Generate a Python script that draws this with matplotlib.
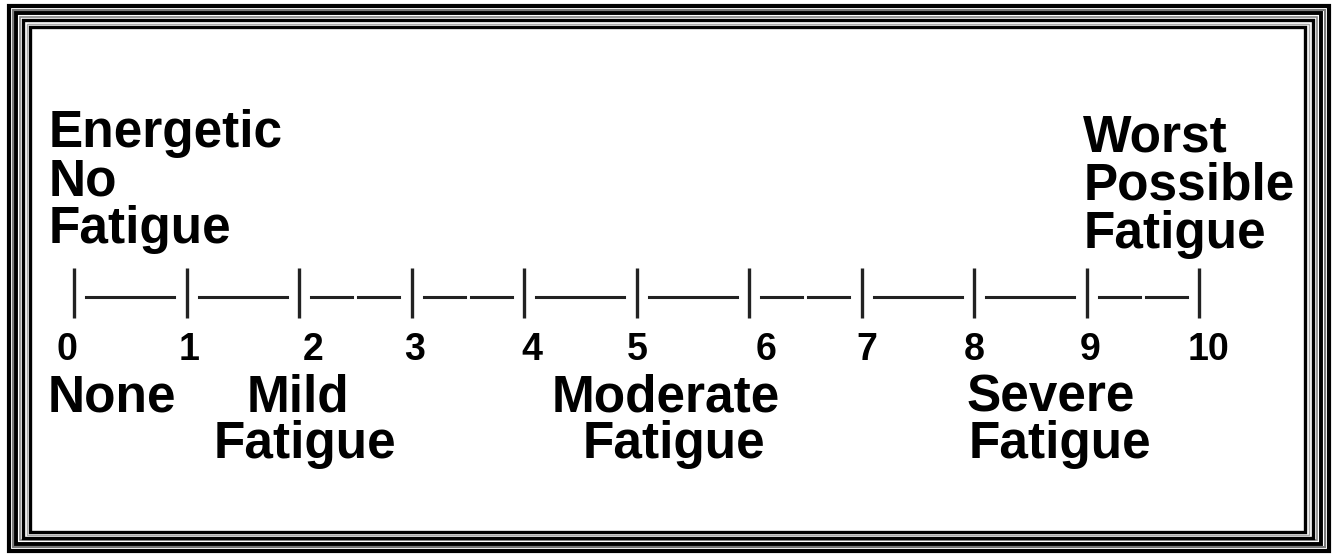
import matplotlib.pyplot as plt
from matplotlib.patches import Rectangle

# scale data
scale_values = [0, 1, 2, 3, 4, 5, 6, 7, 8, 9, 10]
# segment style between successive ticks: 'solid' or 'split' (two short dashes)
segment_styles = ['solid', 'solid', 'split', 'split', 'solid',
                  'solid', 'split', 'solid', 'solid', 'split']
# small nudges of the number labels seen in the picture (scale units)
number_offsets = [-0.06, 0.02, 0.13, 0.03, 0.07, 0.01, 0.15, 0.05, 0.0, 0.03, 0.08]

top_left_lines = ["Energetic", "No", "Fatigue"]
top_right_lines = ["Worst", "Possible", "Fatigue"]
bottom_labels = [["None"], ["Mild", "Fatigue"], ["Moderate", "Fatigue"],
                 ["Severe", "Fatigue"]]
bottom_label_pos = [[0.34], [1.99, 2.05], [5.26, 5.33], [8.68, 8.76]]

W, H = 1338, 557
fig = plt.figure(figsize=(W / 100, H / 100), dpi=100)
ax = fig.add_axes([0, 0, 1, 1])
px = 112.5  # pixels per scale unit
x0 = 74
ax.set_xlim(-x0 / px, (W - x0) / px)
ax.set_ylim(H, 0)
ax.axis('off')

# frame (pixel coords)
def frame(l, t, r, b, lw, color):
    fig.add_artist(Rectangle((l / W, 1 - b / H), (r - l) / W, (b - t) / H,
                             transform=fig.transFigure, fill=False,
                             lw=lw, edgecolor=color))

frame(9, 6, 1329, 551, 3.0, 'black')
frame(13, 10, 1325, 547, 1.4, '#777777')
frame(16, 13, 1321, 544, 2.8, 'black')
frame(20, 17, 1317, 540, 1.2, '#888888')
frame(23, 20, 1313, 538, 2.4, 'black')
frame(27, 24, 1309, 535, 1.0, '#aaaaaa')
frame(30, 27, 1305, 532, 2.4, 'black')

# ticks
tick_top, tick_bot, line_y = 268, 318, 297
for v in scale_values:
    ax.plot([v, v], [tick_top, tick_bot], color='#222222', lw=2.4,
            solid_capstyle='butt')

# segments
gap = 0.11
for i, style in enumerate(segment_styles):
    a, b = scale_values[i] + gap, scale_values[i + 1] - gap
    if style == 'solid':
        ax.plot([a, b], [line_y, line_y], color='#222222', lw=2.2)
    else:
        mid = (a + b) / 2
        ax.plot([a, mid - 0.025], [line_y, line_y], color='#222222', lw=2.2)
        ax.plot([mid + 0.025, b], [line_y, line_y], color='#222222', lw=2.2)

# numbers
for v, off in zip(scale_values, number_offsets):
    ax.text(v + off, 360, str(v), ha='center', va='baseline', fontsize=27,
            fontweight='bold', family='Liberation Sans')

font = dict(fontsize=37, fontweight='bold', family='Liberation Sans')
for i, line in enumerate(top_left_lines):
    ax.text(-0.23, 147 + 48 * i, line, ha='left', va='baseline', **font)
for i, line in enumerate(top_right_lines):
    ax.text(8.97, 152 + 48 * i, line, ha='left', va='baseline', **font)
for lines, xs in zip(bottom_labels, bottom_label_pos):
    for i, (line, xp) in enumerate(zip(lines, xs)):
        ax.text(xp, 411 + 47 * i, line, ha='center', va='baseline', **font)

fig.savefig('out.png', dpi=100, facecolor='white')
